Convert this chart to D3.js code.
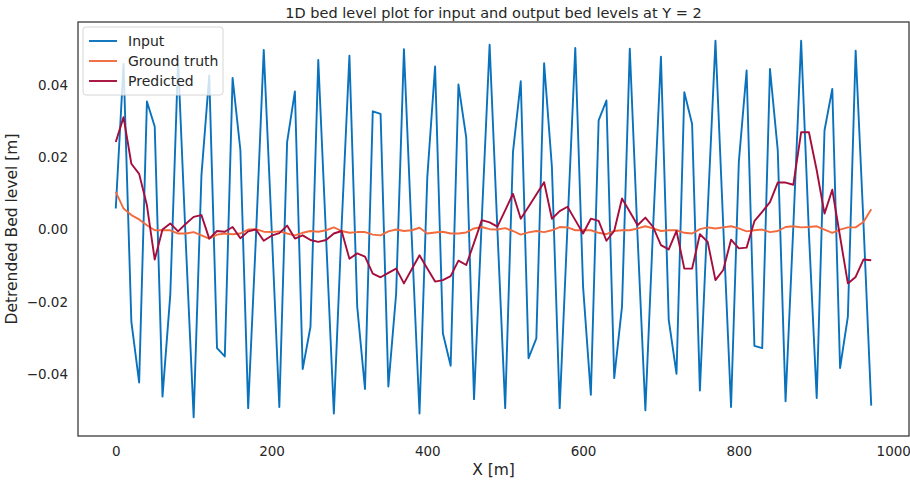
<!DOCTYPE html>
<html>
<head>
<meta charset="utf-8">
<script src="https://cdn.jsdelivr.net/npm/d3@7"></script>
<style>
  html, body { margin: 0; padding: 0; background: #ffffff; }
  svg { display: block; font-family: "DejaVu Sans", sans-serif; }
</style>
</head>
<body>
<svg id="chart" width="910" height="483"></svg>
<script>
// Sample positions along the profile (m)
const xPositions = [
  0, 10, 20, 30, 40, 50, 60, 70, 80, 90,
  100, 110, 120, 130, 140, 150, 160, 170, 180, 190,
  200, 210, 220, 230, 240, 250, 260, 270, 280, 290,
  300, 310, 320, 330, 340, 350, 360, 370, 380, 390,
  400, 410, 420, 430, 440, 450, 460, 470, 480, 490,
  500, 510, 520, 530, 540, 550, 560, 570, 580, 590,
  600, 610, 620, 630, 640, 650, 660, 670, 680, 690,
  700, 710, 720, 730, 740, 750, 760, 770, 780, 790,
  800, 810, 820, 830, 840, 850, 860, 870, 880, 890,
  900, 910, 920, 930, 940, 950, 960, 970
];

// Detrended bed level of the input (m)
const inputLevels = [
  0.0058, 0.0458, -0.0255, -0.0423, 0.0354, 0.0285, -0.0462, -0.0180, 0.0469, -0.0040,
  -0.0519, 0.0150, 0.0426, -0.0328, -0.0351, 0.0419, 0.0220, -0.0494, -0.0020, 0.0497,
  0.0010, -0.0491, 0.0242, 0.0382, -0.0386, -0.0269, 0.0469, -0.0020, -0.0509, 0.0010,
  0.0481, -0.0213, -0.0441, 0.0327, 0.0320, -0.0434, -0.0177, 0.0499, -0.0020, -0.0509,
  0.0145, 0.0451, -0.0287, -0.0377, 0.0401, 0.0254, -0.0469, 0.0030, 0.0511, 0.0000,
  -0.0494, 0.0214, 0.0410, -0.0356, -0.0301, 0.0460, 0.0173, -0.0494, 0.0010, 0.0502,
  -0.0158, -0.0457, 0.0302, 0.0357, -0.0411, -0.0213, 0.0500, -0.0020, -0.0500, 0.0010,
  0.0478, -0.0250, -0.0399, 0.0380, 0.0292, -0.0445, 0.0050, 0.0522, 0.0010, -0.0491,
  0.0187, 0.0440, -0.0322, -0.0328, 0.0444, 0.0219, -0.0475, 0.0010, 0.0522, -0.0010,
  -0.0466, 0.0274, 0.0389, -0.0383, -0.0241, 0.0495, 0.0020, -0.0487
];

// Detrended bed level of the ground truth output (m)
const groundTruthLevels = [
  0.0104, 0.0058, 0.0040, 0.0028, 0.0012, -0.0002, -0.0002, -0.0002, -0.0011, -0.0011,
  -0.0007, -0.0016, -0.0025, -0.0014, -0.0011, -0.0013, -0.0011, 0.0000, 0.0001, -0.0006,
  -0.0007, -0.0005, -0.0011, -0.0016, -0.0009, -0.0004, -0.0006, -0.0002, 0.0006, -0.0004,
  -0.0009, -0.0007, -0.0007, -0.0014, -0.0016, -0.0005, 0.0000, -0.0004, -0.0002, 0.0005,
  -0.0011, -0.0008, -0.0006, -0.0011, -0.0011, -0.0008, 0.0003, 0.0007, 0.0001, 0.0000,
  0.0004, -0.0004, -0.0014, -0.0008, -0.0004, -0.0007, -0.0002, 0.0007, 0.0006, -0.0002,
  -0.0002, -0.0002, -0.0009, -0.0013, -0.0004, -0.0002, -0.0002, 0.0003, 0.0009, 0.0003,
  -0.0004, -0.0002, -0.0002, -0.0009, -0.0011, 0.0001, 0.0006, 0.0003, 0.0006, 0.0009,
  0.0003, -0.0005, -0.0002, 0.0000, -0.0007, -0.0004, 0.0007, 0.0009, 0.0006, 0.0007,
  0.0009, 0.0000, -0.0009, 0.0000, 0.0006, 0.0006, 0.0021, 0.0056
];

// Detrended bed level predicted by the model (m)
const predictedLevels = [
  0.0242, 0.0311, 0.0182, 0.0154, 0.0067, -0.0083, 0.0000, 0.0017, -0.0005, 0.0016,
  0.0035, 0.0040, -0.0025, -0.0004, -0.0006, 0.0007, -0.0024, -0.0005, 0.0000, -0.0031,
  -0.0017, -0.0010, 0.0011, -0.0025, -0.0016, -0.0029, -0.0034, -0.0029, -0.0011, -0.0004,
  -0.0081, -0.0066, -0.0075, -0.0122, -0.0132, -0.0120, -0.0108, -0.0149, -0.0110, -0.0071,
  -0.0108, -0.0144, -0.0140, -0.0129, -0.0086, -0.0098, -0.0037, 0.0026, 0.0020, 0.0008,
  0.0053, 0.0099, 0.0030, 0.0063, 0.0097, 0.0131, 0.0030, 0.0051, 0.0063, 0.0026,
  -0.0011, 0.0030, 0.0024, -0.0031, -0.0004, 0.0086, 0.0049, 0.0012, 0.0033, 0.0007,
  -0.0043, -0.0055, -0.0004, -0.0108, -0.0108, -0.0013, -0.0034, -0.0140, -0.0112, -0.0028,
  -0.0052, -0.0050, 0.0023, 0.0049, 0.0076, 0.0130, 0.0130, 0.0124, 0.0269, 0.0269,
  0.0164, 0.0044, 0.0110, -0.0020, -0.0149, -0.0131, -0.0083, -0.0085
];

const seriesNames = ["Input", "Ground truth", "Predicted"];
const seriesColors = ["#0a72bd", "#f26b3f", "#a50e3c"];
const xTickValues = [0, 200, 400, 600, 800, 1000];
const yTickValues = [-0.04, -0.02, 0.00, 0.02, 0.04];

const titleText = "1D bed level plot for input and output bed levels at Y = 2";
const xLabelText = "X [m]";
const yLabelText = "Detrended Bed level [m]";

const svg = d3.select("#chart");
const plot = { left: 78, top: 22, right: 909, bottom: 436 };

// Axis limits with a 5% margin on each side
function paddedExtent(values) {
  const [lo, hi] = d3.extent(values);
  const pad = (hi - lo) * 0.05;
  return [lo - pad, hi + pad];
}

const allLevels = inputLevels.concat(groundTruthLevels, predictedLevels);
const x = d3.scaleLinear().domain(paddedExtent(xPositions)).range([plot.left, plot.right]);
const y = d3.scaleLinear().domain(paddedExtent(allLevels)).range([plot.bottom, plot.top]);

// Tick labels (no tick marks)
const xAxis = d3.axisBottom(x).tickValues(xTickValues).tickSize(0).tickPadding(10).tickFormat(d3.format("d"));
const yAxis = d3.axisLeft(y).tickValues(yTickValues).tickSize(0).tickPadding(10).tickFormat(d3.format(".2f"));

const gx = svg.append("g").attr("transform", `translate(0,${plot.bottom})`).call(xAxis);
const gy = svg.append("g").attr("transform", `translate(${plot.left},0)`).call(yAxis);
[gx, gy].forEach(g => {
  g.select(".domain").remove();
  g.selectAll("text")
    .attr("fill", "#262626")
    .style("font-size", "13.5px")
    .style("font-family", "'DejaVu Sans', sans-serif");
});
// keep the last x label inside the figure
gx.selectAll(".tick").filter(d => d === 1000).select("text").attr("dx", "-0.1em");

// Clip lines to the axes area
svg.append("clipPath").attr("id", "plot-clip")
  .append("rect")
  .attr("x", plot.left).attr("y", plot.top)
  .attr("width", plot.right - plot.left).attr("height", plot.bottom - plot.top);

const line = d3.line()
  .x(d => x(d[0]))
  .y(d => y(d[1]));

const seriesValues = [inputLevels, groundTruthLevels, predictedLevels];
const linesG = svg.append("g").attr("clip-path", "url(#plot-clip)");
seriesValues.forEach((vals, i) => {
  linesG.append("path")
    .datum(xPositions.map((xv, j) => [xv, vals[j]]))
    .attr("d", line)
    .attr("fill", "none")
    .attr("stroke", seriesColors[i])
    .attr("stroke-width", 1.9)
    .attr("stroke-linejoin", "round")
    .attr("stroke-linecap", "butt");
});

// Axes frame
svg.append("rect")
  .attr("x", plot.left).attr("y", plot.top)
  .attr("width", plot.right - plot.left).attr("height", plot.bottom - plot.top)
  .attr("fill", "none")
  .attr("stroke", "#333333")
  .attr("stroke-width", 1.25);

// Legend in the upper left corner
const legend = svg.append("g").attr("transform", `translate(${plot.left + 5},${plot.top + 5})`);
legend.append("rect")
  .attr("x", 0).attr("y", 0)
  .attr("width", 140).attr("height", 68)
  .attr("rx", 3).attr("ry", 3)
  .attr("fill", "#ffffff").attr("fill-opacity", 0.8)
  .attr("stroke", "#d6d6d6").attr("stroke-width", 1);
seriesNames.forEach((name, i) => {
  const yy = 14 + i * 20;
  legend.append("line")
    .attr("x1", 6).attr("x2", 34)
    .attr("y1", yy).attr("y2", yy)
    .attr("stroke", seriesColors[i]).attr("stroke-width", 1.9);
  legend.append("text")
    .attr("x", 45).attr("y", yy)
    .attr("dy", "0.35em")
    .attr("fill", "#262626")
    .style("font-size", "14px")
    .text(name);
});

// Title and axis labels
svg.append("text")
  .attr("x", (plot.left + plot.right) / 2).attr("y", 13)
  .attr("text-anchor", "middle").attr("dy", "0.35em")
  .attr("fill", "#262626")
  .style("font-size", "14.5px")
  .text(titleText);

svg.append("text")
  .attr("x", (plot.left + plot.right) / 2).attr("y", 470)
  .attr("text-anchor", "middle").attr("dy", "0.35em")
  .attr("fill", "#262626")
  .style("font-size", "15.5px")
  .text(xLabelText);

svg.append("text")
  .attr("transform", `translate(12,${(plot.top + plot.bottom) / 2}) rotate(-90)`)
  .attr("text-anchor", "middle").attr("dy", "0.35em")
  .attr("fill", "#262626")
  .style("font-size", "15.5px")
  .text(yLabelText);
</script>
</body>
</html>
